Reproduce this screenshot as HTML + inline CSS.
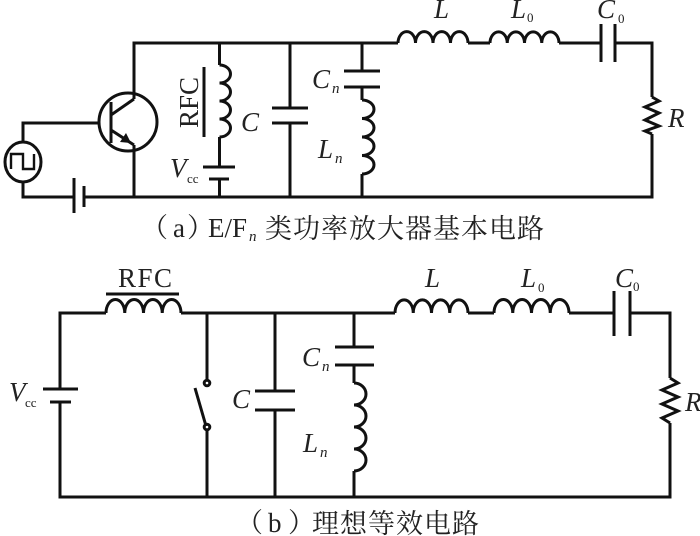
<!DOCTYPE html>
<html>
<head>
<meta charset="utf-8">
<style>
html,body{margin:0;padding:0;background:#fff;width:700px;height:536px;overflow:hidden}
svg{display:block}
.w{fill:none;stroke:#111;stroke-width:3;stroke-linejoin:miter}
text{font-family:"Liberation Serif","Noto Serif CJK SC",serif;fill:#222}
.i{font-style:italic;font-size:27px}
.s{font-size:13px}
.si{font-size:15px;font-style:italic}
.c{font-size:27px;letter-spacing:1px}
.l{font-size:27px}
</style>
</head>
<body>
<svg width="700" height="536" viewBox="0 0 700 536" xmlns="http://www.w3.org/2000/svg">
<g class="w">
<!-- (a) wires -->
<path d="M134 99V43H398M468 43H490M559 43H601M615 43H652V97M652 134V197H84M74 197H23V182M23 142V123H98"/>
<path d="M134 145V197"/>
<!-- source -->
<ellipse cx="23" cy="162" rx="18" ry="20"/>
<path d="M11 169V154H23V169H34V154" stroke-width="2.4"/>
<!-- battery a -->
<path d="M74 178V213M84 186V207"/>
<!-- transistor -->
<circle cx="128" cy="122" r="29"/>
<path d="M111 102V143" stroke-width="3"/>
<path d="M111 115L134 99M111 130L134 145"/>
<path d="M131 143L120 142L126 133Z" fill="#111" stroke="none"/>
<!-- RFC a -->
<path d="M219.5 43V65M219.5 137V167M219.5 179V197"/>
<path d="M219.5 65a11 9 0 0 1 0 18a11 9 0 0 1 0 18a11 9 0 0 1 0 18a11 9 0 0 1 0 18"/>
<path d="M204 67V137"/>
<path d="M203 167H235M209 179H229"/>
<!-- C a -->
<path d="M290 43V108M290 123V197M272 108H308M272 123H308"/>
<!-- Cn Ln a -->
<path d="M362 43V71M362 87V100M362 174V197M344 71H380M344 87H380"/>
<path d="M362 100a12 9.25 0 0 1 0 18.5a12 9.25 0 0 1 0 18.5a12 9.25 0 0 1 0 18.5a12 9.25 0 0 1 0 18.5"/>
<!-- L, L0 a -->
<path d="M398 43a8.5 11 0 0 1 17.5 0a8.5 11 0 0 1 17.5 0a8.5 11 0 0 1 17.5 0a8.5 11 0 0 1 17.5 0"/>
<path d="M490 43a8.5 11 0 0 1 17.25 0a8.5 11 0 0 1 17.25 0a8.5 11 0 0 1 17.25 0a8.5 11 0 0 1 17.25 0"/>
<!-- C0 a -->
<path d="M601 24V62M615 24V62"/>
<!-- R a -->
<path d="M652 97L659 101L645 107L659 113L645 120L659 126L645 131L652 134" stroke-width="3"/>

<!-- (b) wires -->
<path d="M106 313H60V389M60 402V497H670V423M670 378V313H630M614 313H569M494 313H468M395 313H181"/>
<!-- RFC b -->
<path d="M106 313a9 13 0 0 1 18.75 0a9 13 0 0 1 18.75 0a9 13 0 0 1 18.75 0a9 13 0 0 1 18.75 0"/>
<path d="M106 294H179"/>
<!-- battery b -->
<path d="M43 389H78M50 402H71"/>
<!-- switch -->
<path d="M207 313V380M207 430V497M195 388L206 426"/>
<circle cx="207" cy="383" r="2.8"/>
<circle cx="207" cy="427" r="2.8"/>
<!-- C b -->
<path d="M275 313V391M275 410V497M255 391H295M255 410H295"/>
<!-- Cn Ln b -->
<path d="M354 313V347M354 365V383M354 471V497M335 347H374M335 365H374"/>
<path d="M354 383a12 11 0 0 1 0 22a12 11 0 0 1 0 22a12 11 0 0 1 0 22a12 11 0 0 1 0 22"/>
<!-- L, L0 b -->
<path d="M395 313a9 13 0 0 1 18.25 0a9 13 0 0 1 18.25 0a9 13 0 0 1 18.25 0a9 13 0 0 1 18.25 0"/>
<path d="M494 313a9 13 0 0 1 18.75 0a9 13 0 0 1 18.75 0a9 13 0 0 1 18.75 0a9 13 0 0 1 18.75 0"/>
<!-- C0 b -->
<path d="M614 291V336M630 291V336"/>
<!-- R b -->
<path d="M670 378L678 383L662 390L678 397L662 404L678 411L662 418L670 423" stroke-width="3"/>
</g>

<!-- (a) labels -->
<text class="i" x="434" y="18">L</text>
<text class="i" x="511" y="18">L</text><text class="s" x="527" y="22">0</text>
<text class="i" x="597" y="18">C</text><text class="s" x="618" y="23">0</text>
<text class="i" x="668" y="127">R</text>
<text class="i" x="312" y="88">C</text><text class="si" x="332" y="93">n</text>
<text class="i" x="318" y="158">L</text><text class="si" x="335" y="163">n</text>
<text class="i" x="241" y="131">C</text>
<text class="i" x="170" y="177">V</text><text class="s" x="187" y="183">cc</text>
<text transform="translate(198 128) rotate(-90)" style="font-size:27px">RFC</text>

<!-- (b) labels -->
<text x="118" y="287" style="font-size:27px;letter-spacing:1.5px">RFC</text>
<text class="i" x="425" y="287">L</text>
<text class="i" x="521" y="287">L</text><text class="s" x="538" y="292">0</text>
<text class="i" x="615" y="287">C</text><text class="s" x="633" y="291">0</text>
<text class="i" x="685" y="411">R</text>
<text class="i" x="302" y="366">C</text><text class="si" x="322" y="371">n</text>
<text class="i" x="303" y="452">L</text><text class="si" x="320" y="457">n</text>
<text class="i" x="232" y="408">C</text>
<text class="i" x="9" y="401">V</text><text class="s" x="25" y="407">cc</text>

<!-- captions -->
<text class="l" x="141" y="237">（</text><text class="l" x="173" y="237">a</text><text class="l" x="187" y="237">）</text>
<text class="l" x="208" y="237">E/F</text><text class="si" x="249" y="241">n</text>
<text class="c" x="265" y="238">类功率放大器基本电路</text>
<text class="l" x="236" y="532">（</text><text class="l" x="268" y="532">b</text><text class="l" x="288" y="532">）</text>
<text class="c" x="312" y="533">理想等效电路</text>
</svg>
</body>
</html>
